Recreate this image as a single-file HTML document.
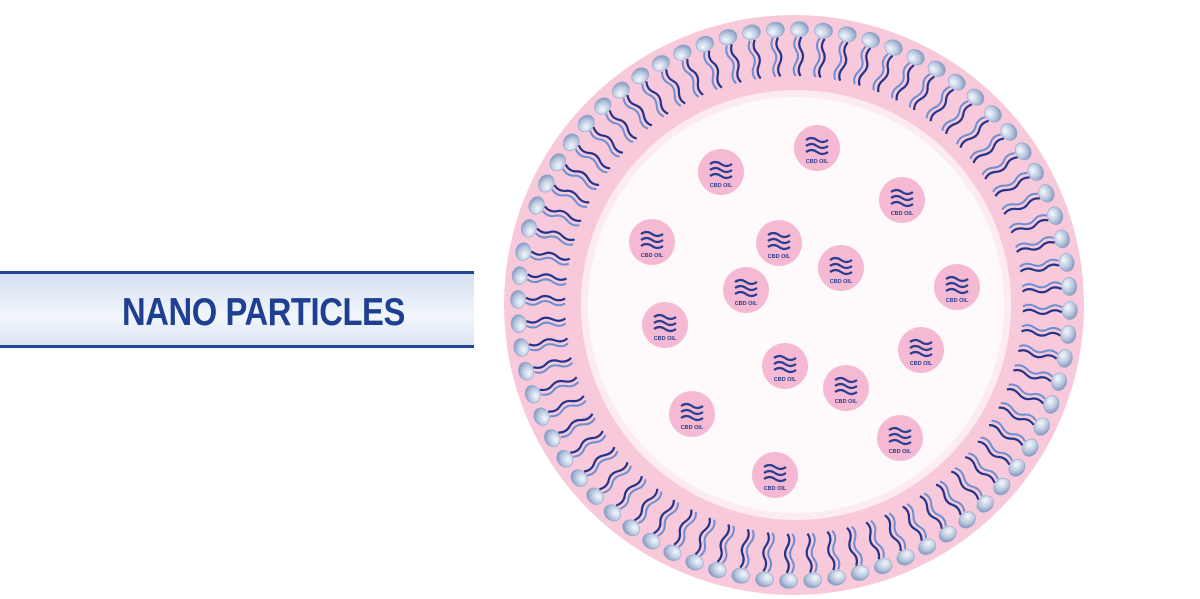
<!DOCTYPE html>
<html><head><meta charset="utf-8"><style>
html,body{margin:0;padding:0;background:#fff;width:1200px;height:599px;overflow:hidden;}
#band{position:absolute;left:0;top:271px;width:474px;height:77px;box-sizing:border-box;border-top:3px solid #1f4596;border-bottom:3px solid #1f4596;background:linear-gradient(#d3e0f0,#f2f6fb 60%,#dbe5f2);}
#band span{position:absolute;left:122px;top:17px;font:bold 39px "Liberation Sans",sans-serif;color:#1f3f93;letter-spacing:-0.5px;transform:scaleX(0.84);transform-origin:0 0;white-space:nowrap;}
svg{position:absolute;left:0;top:0;}
.t{font:bold 5.5px "Liberation Sans",sans-serif;fill:#2a3f8f;text-anchor:middle;}
</style></head><body>
<div id="band"><span>NANO PARTICLES</span></div>
<svg width="1200" height="599" viewBox="0 0 1200 599">
<defs>
<radialGradient id="hg" cx="0.35" cy="0.35" r="0.7"><stop offset="0" stop-color="#f4f8fc"/><stop offset="0.6" stop-color="#b9c8df"/><stop offset="1" stop-color="#8597bd"/></radialGradient>
<g id="p"><circle r="23" fill="#f5b9d3"/>
<path d="M-11,-8 q5.5,-4 11,0 t11,0 M-11,-2 q5.5,-4 11,0 t11,0 M-11,4 q5.5,-4 11,0 t11,0" stroke="#2a3f8f" stroke-width="2.2" fill="none"/></g>
</defs>
<circle cx="794" cy="305" r="290" fill="#f8c9db"/>
<circle cx="796" cy="305" r="215" fill="#fcecf2"/>
<circle cx="796" cy="305" r="208" fill="#fefafc"/>
<g id="lip"></g>
<g><use href="#p" x="721" y="172"/><text class="t" x="721" y="187">CBD OIL</text></g>
<g><use href="#p" x="817" y="148"/><text class="t" x="817" y="163">CBD OIL</text></g>
<g><use href="#p" x="902" y="200"/><text class="t" x="902" y="215">CBD OIL</text></g>
<g><use href="#p" x="652" y="242"/><text class="t" x="652" y="257">CBD OIL</text></g>
<g><use href="#p" x="779" y="243"/><text class="t" x="779" y="258">CBD OIL</text></g>
<g><use href="#p" x="841" y="268"/><text class="t" x="841" y="283">CBD OIL</text></g>
<g><use href="#p" x="957" y="287"/><text class="t" x="957" y="302">CBD OIL</text></g>
<g><use href="#p" x="746" y="290"/><text class="t" x="746" y="305">CBD OIL</text></g>
<g><use href="#p" x="665" y="325"/><text class="t" x="665" y="340">CBD OIL</text></g>
<g><use href="#p" x="921" y="350"/><text class="t" x="921" y="365">CBD OIL</text></g>
<g><use href="#p" x="785" y="366"/><text class="t" x="785" y="381">CBD OIL</text></g>
<g><use href="#p" x="846" y="388"/><text class="t" x="846" y="403">CBD OIL</text></g>
<g><use href="#p" x="692" y="414"/><text class="t" x="692" y="429">CBD OIL</text></g>
<g><use href="#p" x="900" y="438"/><text class="t" x="900" y="453">CBD OIL</text></g>
<g><use href="#p" x="775" y="475"/><text class="t" x="775" y="490">CBD OIL</text></g>
</svg>
<script>
var g=document.getElementById('lip'),s='';
var N=72,cx=794,cy=305;
for(var i=0;i<N;i++){var a=i/N*2*Math.PI+0.02;
var deg=a*180/Math.PI;
s+='<g transform="translate('+cx+','+cy+') rotate('+deg+') translate(276,0)">'+
'<path d="M-8,-3 q-7,-4 -13,0 t-13,0 t-13,0" stroke="#6b8fd0" stroke-width="2" fill="none"/>'+
'<path d="M-8,2 q-7,-4 -13,0 t-13,0 t-13,0" stroke="#23358a" stroke-width="2.2" fill="none"/>'+
'<ellipse rx="7.5" ry="9" fill="url(#hg)" stroke="#8fa6cf" stroke-width="0.6"/></g>';}
g.innerHTML=s;
</script>
</body></html>
